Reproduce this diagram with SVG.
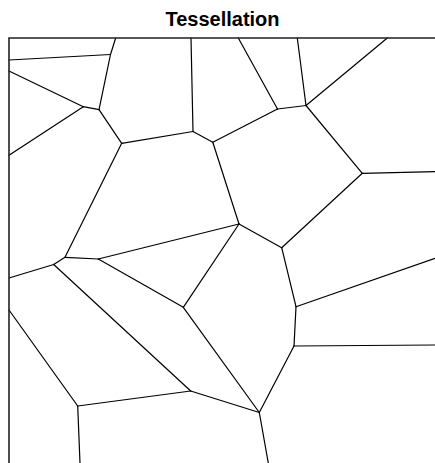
<svg xmlns="http://www.w3.org/2000/svg" width="435" height="463" viewBox="0 0 435 463">
<style>
.title{font-family:"Liberation Sans",Arial,sans-serif;font-weight:bold;font-size:20px;fill:#000}
.frame{stroke:#222;stroke-width:1.6;fill:none}
.edge{stroke:#000;stroke-width:1.2;fill:none;stroke-linecap:round}
</style>
<rect width="435" height="463" fill="#fff"/>
<text class="title" x="222.5" y="26" text-anchor="middle">Tessellation</text>
<g id="edges" class="edge">
<line x1="9" y1="60" x2="110.5" y2="54.5"/>
<line x1="110.5" y1="54.5" x2="115.7" y2="38"/>
<line x1="110.5" y1="54.5" x2="99" y2="109.7"/>
<line x1="9" y1="71" x2="83.3" y2="106.7"/>
<line x1="83.3" y1="106.7" x2="99" y2="109.7"/>
<line x1="83.3" y1="106.7" x2="9" y2="155.3"/>
<line x1="99" y1="109.7" x2="121.7" y2="143.3"/>
<line x1="121.7" y1="143.3" x2="193" y2="131.5"/>
<line x1="193" y1="131.5" x2="191" y2="38"/>
<line x1="193" y1="131.5" x2="212.8" y2="142.3"/>
<line x1="212.8" y1="142.3" x2="277.5" y2="109"/>
<line x1="277.5" y1="109" x2="238.3" y2="38"/>
<line x1="277.5" y1="109" x2="306" y2="105.5"/>
<line x1="306" y1="105.5" x2="297.3" y2="38"/>
<line x1="306" y1="105.5" x2="387.3" y2="38"/>
<line x1="306" y1="105.5" x2="362.3" y2="173.3"/>
<line x1="362.3" y1="173.3" x2="435" y2="171.7"/>
<line x1="362.3" y1="173.3" x2="281.7" y2="247.7"/>
<line x1="212.8" y1="142.3" x2="239" y2="224"/>
<line x1="239" y1="224" x2="281.7" y2="247.7"/>
<line x1="121.7" y1="143.3" x2="65" y2="257.3"/>
<line x1="65" y1="257.3" x2="98.3" y2="259"/>
<line x1="98.3" y1="259" x2="239" y2="224"/>
<line x1="65" y1="257.3" x2="53.7" y2="264.5"/>
<line x1="53.7" y1="264.5" x2="9" y2="278"/>
<line x1="53.7" y1="264.5" x2="190.7" y2="391"/>
<line x1="98.3" y1="259" x2="183.3" y2="307.3"/>
<line x1="183.3" y1="307.3" x2="239" y2="224"/>
<line x1="281.7" y1="247.7" x2="296" y2="306.7"/>
<line x1="296" y1="306.7" x2="435" y2="258.3"/>
<line x1="296" y1="306.7" x2="294" y2="346"/>
<line x1="294" y1="346" x2="435" y2="345"/>
<line x1="294" y1="346" x2="259.3" y2="412.5"/>
<line x1="183.3" y1="307.3" x2="259.3" y2="412.5"/>
<line x1="190.7" y1="391" x2="259.3" y2="412.5"/>
<line x1="259.3" y1="412.5" x2="268.3" y2="463"/>
<line x1="9" y1="310" x2="77.7" y2="406"/>
<line x1="77.7" y1="406" x2="190.7" y2="391"/>
<line x1="77.7" y1="406" x2="80" y2="463"/>
</g>
<g id="frame" class="frame">
<path d="M435 38 H9 V463"/>
</g>
</svg>
